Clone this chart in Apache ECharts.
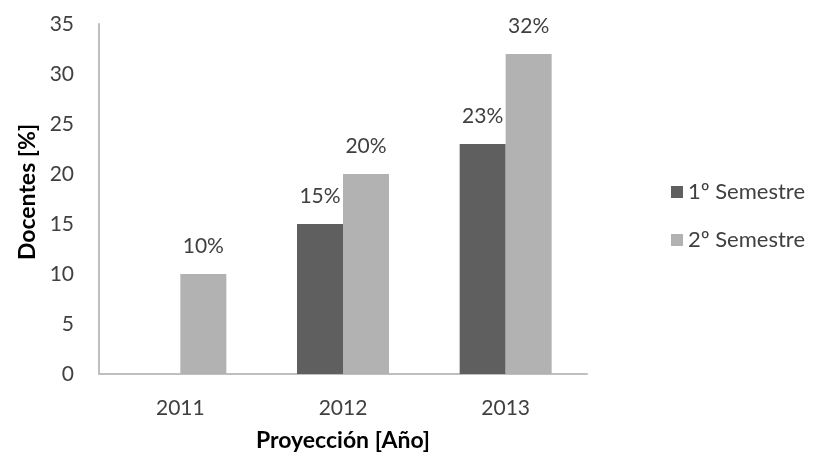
<!DOCTYPE html>
<html><head><meta charset="utf-8">
<script src="https://cdn.jsdelivr.net/npm/echarts@6/dist/echarts.min.js"></script>
<style>html,body{margin:0;padding:0;background:#fff}#c{width:822px;height:462px}</style>
</head><body><div id="c"></div>
<script>
const categories = ['2011', '2012', '2013'];
const sem1 = [null, 15, 23];
const sem2 = [10, 20, 32];
const seriesNames = ['1º Semestre', '2º Semestre'];
const yTicks = [0, 35, 5];

const font = 'Lato';
const chart = echarts.init(document.getElementById('c'));
const lbl = {show: true, position: 'top', distance: 17, color: '#404040', fontSize: 21, fontFamily: font,
  formatter: p => p.value + '%'};
chart.setOption({
  animation: false,
  legend: {orient: 'vertical', left: 666, top: 176, itemWidth: 12, itemHeight: 12, itemGap: 26,
    icon: 'rect', textStyle: {fontSize: 22, color: '#404040', fontFamily: font},
    data: seriesNames},
  grid: {left: 99, right: 235, top: 24, bottom: 88},
  xAxis: {type: 'category', data: categories,
    axisLine: {lineStyle: {color: '#bfbfbf', width: 2}}, axisTick: {show: false},
    axisLabel: {fontSize: 21, color: '#404040', fontFamily: font, margin: 24},
    name: 'Proyección [Año]', nameLocation: 'middle', nameGap: 55,
    nameTextStyle: {fontSize: 23, fontWeight: 'bold', color: '#000', fontFamily: font}},
  yAxis: {type: 'value', min: yTicks[0], max: yTicks[1], interval: yTicks[2],
    splitLine: {show: false},
    axisLine: {show: true, lineStyle: {color: '#bfbfbf', width: 2}}, axisTick: {show: false},
    axisLabel: {fontSize: 21, color: '#404040', fontFamily: font, margin: 25},
    name: 'Docentes [%]', nameLocation: 'middle', nameGap: 60, nameRotate: 90,
    nameTextStyle: {fontSize: 23, fontWeight: 'bold', color: '#000', fontFamily: font, padding: [0, 0, 0, 14]}},
  series: [
    {name: seriesNames[0], type: 'bar', data: sem1, barWidth: 46, barGap: '0%',
      itemStyle: {color: '#5f5f5f'}, label: lbl},
    {name: seriesNames[1], type: 'bar', data: sem2, barWidth: 46,
      itemStyle: {color: '#b2b2b2'}, label: lbl}
  ]
});
</script></body></html>
